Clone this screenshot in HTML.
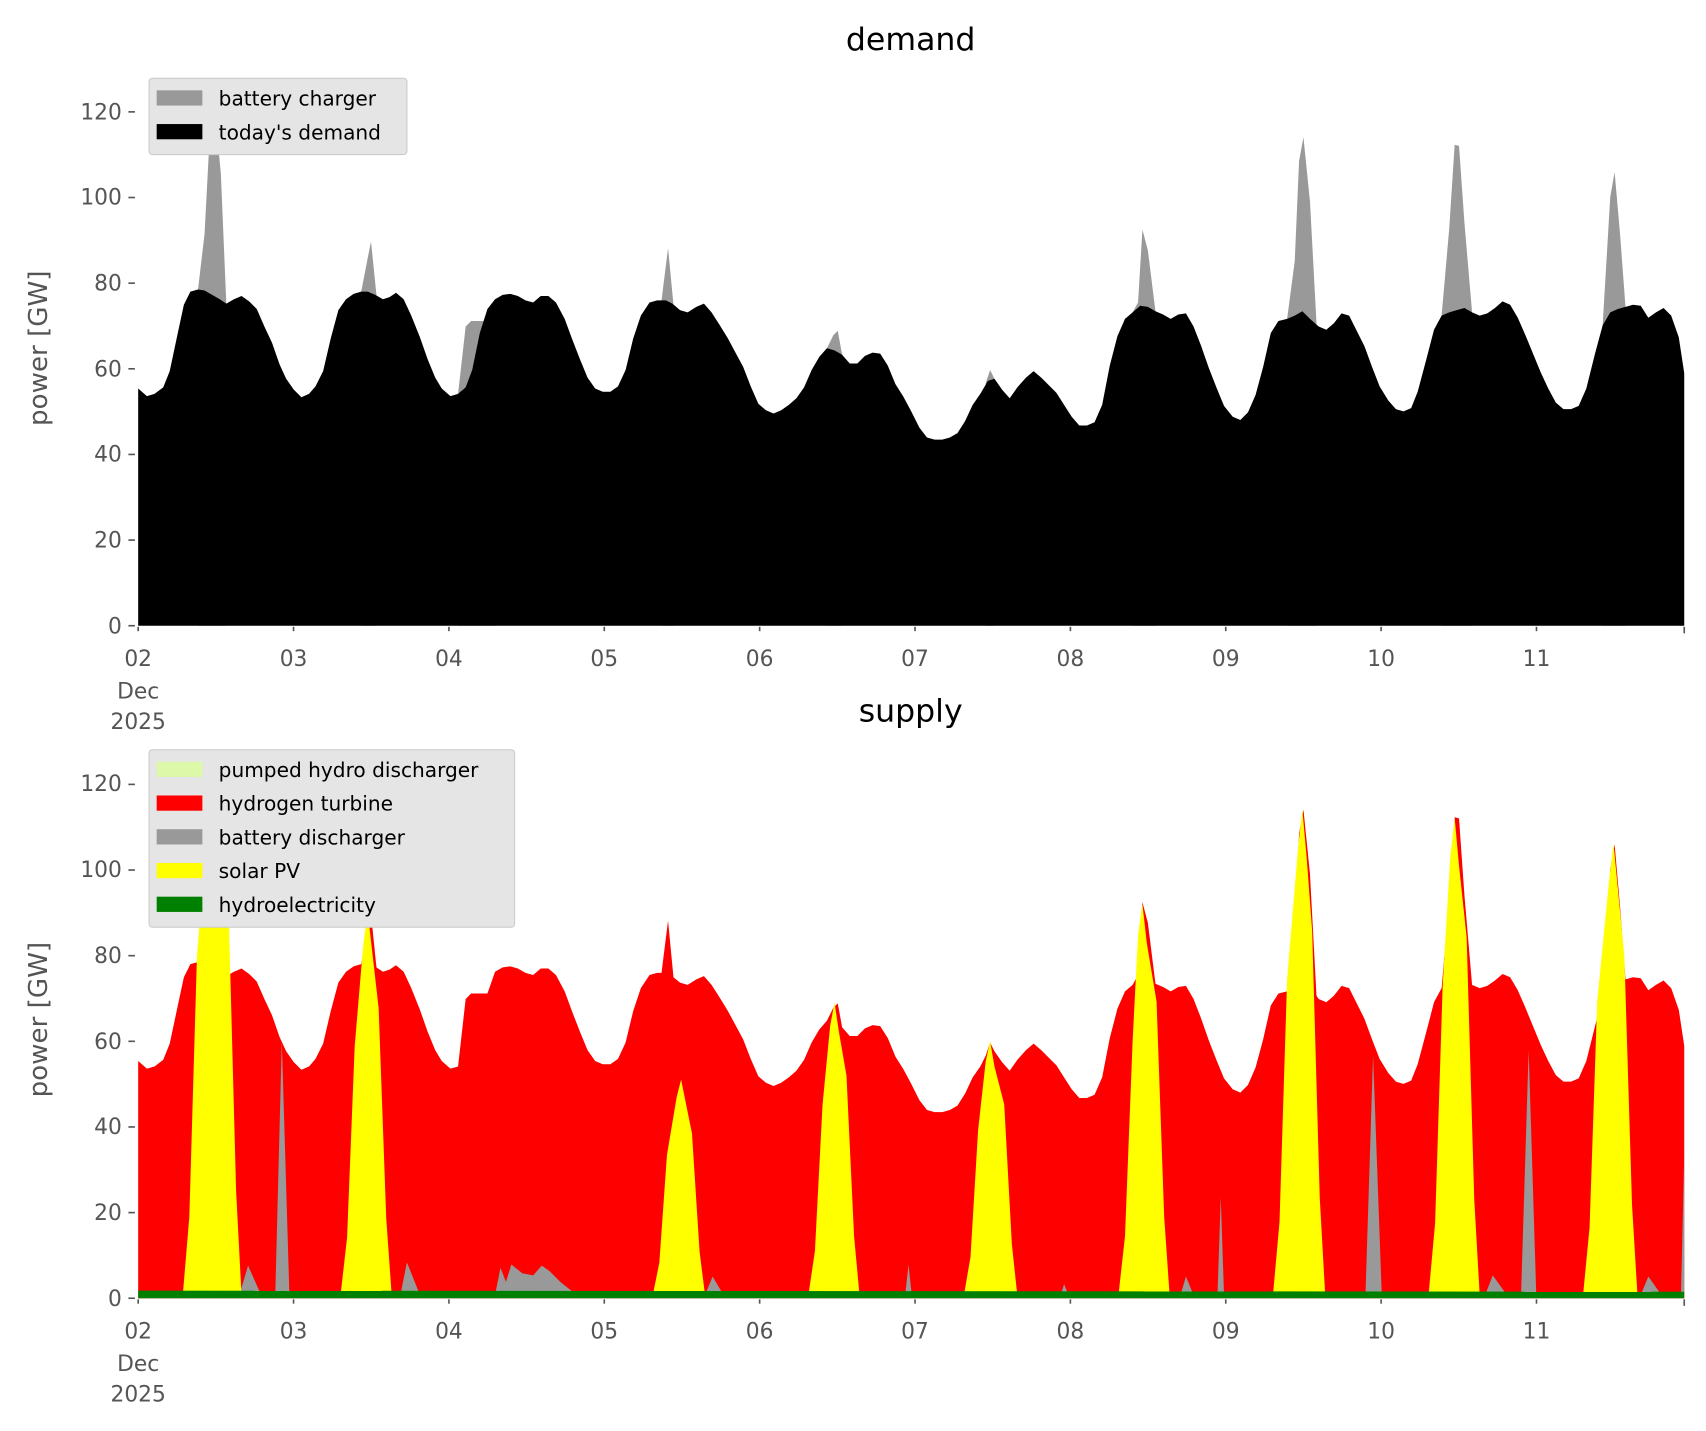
<!DOCTYPE html>
<html><head><meta charset="utf-8"><style>
html,body{margin:0;padding:0;background:#fff}
svg{display:block}
text{font-family:"DejaVu Sans","Liberation Sans",sans-serif;fill:#555}
</style></head><body>
<svg id="s" width="1706" height="1431" viewBox="0 0 1568 1315" preserveAspectRatio="none" xmlns="http://www.w3.org/2000/svg">
<g id="g1"></g>
<text x="837" y="46" font-size="29" text-anchor="middle" style="fill:#000">demand</text>
<text x="837" y="663" font-size="29" text-anchor="middle" style="fill:#000">supply</text>
<text transform="translate(43,320) rotate(-90)" font-size="24" text-anchor="middle">power [GW]</text>
<text transform="translate(43,937) rotate(-90)" font-size="24" text-anchor="middle">power [GW]</text>
<g font-size="20" text-anchor="end">
<text x="112" y="582">0</text><text x="112" y="503">20</text><text x="112" y="424">40</text><text x="112" y="346">60</text><text x="112" y="267">80</text><text x="112" y="188">100</text><text x="112" y="110">120</text>
<text x="112" y="1200">0</text><text x="112" y="1121">20</text><text x="112" y="1042">40</text><text x="112" y="964">60</text><text x="112" y="885">80</text><text x="112" y="806">100</text><text x="112" y="727">120</text>
</g>
<g font-size="20" text-anchor="middle" id="xt"></g>
<g id="legends"></g>
</svg>
<script>
const NS="http://www.w3.org/2000/svg";
const g=document.getElementById('g1');
function poly(pts,fill,off){let d=pts.map(p=>p[0]+','+(p[1]+(off||0))).join(' ');let e=document.createElementNS(NS,'polygon');e.setAttribute('points',d);e.setAttribute('fill',fill);g.appendChild(e);}
function line(x1,y1,x2,y2,c,w){let e=document.createElementNS(NS,'line');e.setAttribute('x1',x1);e.setAttribute('y1',y1);e.setAttribute('x2',x2);e.setAttribute('y2',y2);e.setAttribute('stroke',c);e.setAttribute('stroke-width',w);g.appendChild(e);}
const D=[[127,357],[135,364],[142,362],[150,356],[156,341],[163,308],[169,280],[175,268],[182,266],[188,267],[195,271],[202,275],[208,279],[215,275],[222,272],[229,277],[236,284],[243,300],[250,315],[257,335],[263,348],[270,358],[277,365],[284,362],[290,355],[297,341],[304,311],[311,285],[318,275],[325,270],[332,268],[338,268],[345,271],[352,275],[358,273],[364,269],[371,275],[378,290],[386,310],[393,330],[400,347],[406,357],[414,364],[421,362],[428,356],[434,340],[441,306],[448,284],[455,275],[462,271],[469,270],[476,272],[483,276],[490,278],[497,272],[504,272],[511,278],[519,293],[526,312],[533,330],[540,347],[547,357],[554,360],[561,360],[568,355],[575,340],[582,311],[589,290],[597,278],[604,276],[612,276],[618,279],[625,285],[632,287],[640,282],[647,279],[654,287],[661,298],[669,311],[676,324],[683,337],[690,355],[697,371],[704,377],[711,380],[718,377],[725,372],[732,366],[739,356],[746,340],[753,328],[760,320],[767,322],[774,326],[781,334],[788,334],[795,327],[802,324],[809,325],[816,336],[823,353],[830,364],[837,377],[845,393],[852,402],[859,404],[866,404],[873,402],[880,398],[887,387],[894,372],[901,362],[908,350],[914,348],[921,358],[928,366],[935,356],[943,347],[950,341],[957,347],[964,354],[971,361],[978,372],[985,383],[992,391],[999,391],[1006,388],[1013,372],[1020,336],[1027,309],[1034,293],[1041,287],[1048,281],[1055,282],[1062,286],[1069,289],[1076,293],[1083,289],[1090,288],[1097,300],[1104,318],[1111,338],[1118,356],[1125,373],[1133,383],[1140,386],[1147,379],[1154,363],[1161,337],[1168,306],[1175,295],[1183,293],[1190,290],[1197,286],[1204,293],[1212,300],[1219,303],[1226,297],[1233,288],[1240,290],[1247,304],[1254,318],[1261,337],[1268,355],[1276,368],[1283,376],[1290,378],[1297,375],[1303,360],[1311,330],[1318,303],[1325,290],[1332,287],[1339,285],[1346,283],[1353,287],[1360,290],[1367,288],[1374,283],[1381,277],[1388,280],[1395,292],[1402,308],[1409,325],[1416,342],[1423,357],[1430,370],[1437,376],[1444,376],[1451,373],[1458,357],[1466,325],[1473,299],[1480,287],[1487,284],[1494,282],[1501,280],[1508,281],[1515,292],[1522,287],[1529,283],[1536,290],[1543,310],[1548,343]];
const peaks=[
[[182,266],[188,215],[193,120],[197,95],[203,160],[208,279]],
[[332,268],[338,237],[341,222],[346,271]],
[[421,362],[428,300],[433,295],[448,295],[455,275]],
[[608,276],[614,228],[619,280]],
[[760,320],[766,308],[770,304],[774,326]],
[[906,352],[910,340],[914,348]],
[[1041,287],[1046,278],[1050,211],[1055,230],[1062,286]],
[[1183,293],[1190,240],[1194,148],[1198,126],[1204,185],[1210,297]],
[[1325,290],[1332,210],[1337,133],[1341,134],[1346,205],[1353,287]],
[[1473,299],[1480,181],[1484,158],[1489,215],[1494,282]]];
function withBase(p,base){return [[p[0][0],base]].concat(p,[[p[p.length-1][0],base]]);}
peaks.forEach(p=>poly(withBase(p,575),'#999'));
poly(withBase(D,575),'#000');
let T=D.slice();
peaks.forEach(p=>{const a=p[0][0],b=p[p.length-1][0];T=T.filter(q=>q[0]<a||q[0]>b).concat(p);});
T.sort((a,b)=>a[0]-b[0]);
const off=1193-575;
poly(withBase(T,575),'#ff0000',off);
const gs=[[[253,1190],[259,957],[266,1190]],[[832,1190],[835,1162],[838,1190]],[[1119,1190],[1122,1100],[1125,1190]],[[1255,1190],[1262,970],[1270,1190]],[[1398,1190],[1405,965],[1412,1190]],[[1545,1190],[1548,1060],[1548,1190]],
[[220,1190],[228,1163],[240,1190]],[[368,1190],[374,1160],[386,1190]],[[455,1190],[460,1165],[465,1178],[470,1162],[480,1170],[490,1172],[498,1163],[505,1168],[515,1178],[530,1190]],[[648,1190],[655,1173],[665,1190]],[[975,1190],[978,1180],[982,1190]],[[1085,1190],[1090,1173],[1097,1190]],[[1195,1190],[1203,1178],[1215,1190]],[[1365,1190],[1372,1172],[1385,1190]],[[1508,1190],[1515,1173],[1527,1190]]];
gs.forEach(p=>poly(p,'#999'));
const sp=[[168,222,195,122],[313,360,338,90],[600,648,626,51],[743,790,767,69],[886,935,910,60],[1028,1075,1050,92],[1170,1218,1197,114],[1313,1360,1337,112],[1455,1505,1483,106]];
sp.forEach(s=>{const[x0,x1,xp,v]=s;const yp=1193-v*3.94;const h=1190-yp;
poly([[x0,1190],[x0+6,1190-h*0.15],[x0+13,1190-h*0.65],[xp-4,yp+h*0.08],[xp,yp],[xp+4,yp+h*0.1],[x1-12,1190-h*0.75],[x1-5,1190-h*0.2],[x1,1190]],'#ffff00');});
poly([[127,1186],[1548,1187],[1548,1193],[127,1193]],'#008000');
[575,1193].forEach(yb=>{
 for(let i=0;i<=9;i++){line(127+i*142.8,yb+1,127+i*142.8,yb+5,'#555',1.5);}
 line(1548,yb+1,1548,yb+7,'#555',1.5);
 for(let v=0;v<=120;v+=20){const y=yb-v*3.935;line(118,y,124,y,'#555',1.5);}
});
const xt=document.getElementById('xt');
function txt(par,x,y,s,extra){let e=document.createElementNS(NS,'text');e.setAttribute('x',x);e.setAttribute('y',y);e.textContent=s;if(extra)for(const k in extra)e.setAttribute(k,extra[k]);par.appendChild(e);}
const labs=['02','03','04','05','06','07','08','09','10','11'];
[[575,604],[1193,1222]].forEach(([yb,ty])=>{
 labs.forEach((l,i)=>txt(xt,127+i*142.8,ty+8,l));
 txt(xt,127,ty+38,'Dec');txt(xt,127,ty+66,'2025');
});
const lg=document.getElementById('legends');
function legend(x,y,w,items){let r=document.createElementNS(NS,'rect');r.setAttribute('x',x);r.setAttribute('y',y);r.setAttribute('width',w);r.setAttribute('height',items.length*31+8);r.setAttribute('rx',3);r.setAttribute('fill','#e5e5e5');r.setAttribute('stroke','#ccc');lg.appendChild(r);
 items.forEach((it,i)=>{let p=document.createElementNS(NS,'rect');p.setAttribute('x',x+7);p.setAttribute('y',y+11+i*31);p.setAttribute('width',42);p.setAttribute('height',14);p.setAttribute('fill',it[1]);lg.appendChild(p);
 txt(lg,x+64,y+25+i*31,it[0],{'font-size':'18.5',style:'fill:#000'});});}
legend(137,72,237,[['battery charger','#999'],["today's demand",'#000']]);
legend(137,689,336,[['pumped hydro discharger','#ddf8a8'],['hydrogen turbine','#ff0000'],['battery discharger','#999'],['solar PV','#ffff00'],['hydroelectricity','#008000']]);
</script>
</body></html>
